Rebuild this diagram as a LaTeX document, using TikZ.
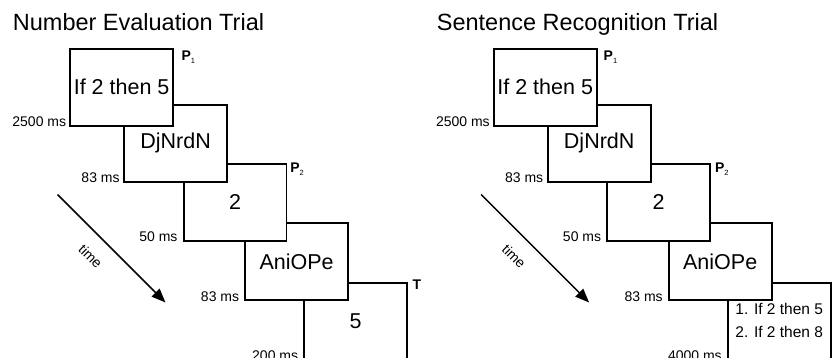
\documentclass[tikz,border=0pt]{standalone}
\usepackage{fontspec}
\setmainfont{Liberation Sans}
\usetikzlibrary{arrows.meta,calc}
\newcommand\psubscr[1]{\raisebox{-2.5pt}{\fontsize{7.5}{7.5}\selectfont\mdseries #1}}
\newcommand\drawtrial[6]{%
  \begin{scope}[xshift=#2pt, name prefix=#1-]
    % boxes, back to front
    \node[stim, anchor=north west] (b5) at (303.3,281.7) {#3};
    \node[stim, anchor=north west] (b4) at (244.3,222.3) {AniOPe};
    \node[stim, anchor=north west] (b3) at (182.7,162.7) {2};
    \node[stim, anchor=north west] (b2) at (123.3,104.0) {DjNrdN};
    \node[stim, anchor=north west] (b1) at (69.3,47.7) {If 2 then 5};
    % durations
    \node[ms] (t1) at ([xshift=-3pt]b1.south west) {2500 ms};
    \node[ms] (t2) at ([xshift=-3.5pt]b2.south west) {83 ms};
    \node[ms] (t3) at ([xshift=-5pt]b3.south west) {50 ms};
    \node[ms] (t4) at ([xshift=-5pt]b4.south west) {83 ms};
    \node[ms] (t5) at ([xshift=-5pt]b5.south west) {#4};
    % probe / target labels
    \node[plab] (p1) at ([xshift=#5pt,yshift=-3pt]b1.north east) {P\psubscr{1}};
    \node[plab] (p2) at ([xshift=#6pt,yshift=0pt]b3.north east) {P\psubscr{2}};
    \node[plab] (tt) at ([xshift=4.5pt,yshift=2.4pt]b5.north east) {T};
    % time arrow
    \coordinate (a0) at (57.5,194.5);
    \coordinate (a1) at (165.5,302.5);
    \draw[timearrow] (a0) -- (a1);
    \node[rotate=-45, font=\fontsize{14}{14}\selectfont, inner sep=0] (tl) at (90.5,256.5) {time};
  \end{scope}}
\begin{document}
\begin{tikzpicture}[x=1pt, y=-1pt,
  stim/.style={draw, fill=white, line width=1.8pt, minimum width=102.8pt,
    minimum height=77pt, inner sep=0pt, font=\fontsize{21.5}{24}\selectfont},
  ms/.style={anchor=base east, inner sep=0pt, font=\fontsize{14}{14}\selectfont},
  plab/.style={anchor=north west, inner sep=0pt, font=\fontsize{14}{14}\selectfont\bfseries},
  title/.style={anchor=base west, inner sep=0pt, font=\fontsize{23.5}{27}\selectfont},
  timearrow/.style={line width=1.5pt, -{Triangle[length=14pt,width=11pt]}},
  choice/.style={font=\fontsize{15.5}{18.6}\selectfont, align=left, inner sep=0pt}]
\useasboundingbox (0,0) rectangle (836,357);
\node[title] (title1) at (12.7,30.7) {Number Evaluation Trial};
\node[title] (title2) at (436.7,30.7) {Sentence Recognition Trial};
\drawtrial{L}{0}{5}{200 ms}{7.4}{2.8}
\drawtrial{R}{423.6}{\begin{tabular}{@{}l@{}}\fontsize{15.5}{18.6}\selectfont 1. If 2 then 5\\[-1pt]\fontsize{15.5}{18.6}\selectfont 2. If 2 then 8\end{tabular}}{4000 ms}{6}{4}
\end{tikzpicture}
\end{document}
